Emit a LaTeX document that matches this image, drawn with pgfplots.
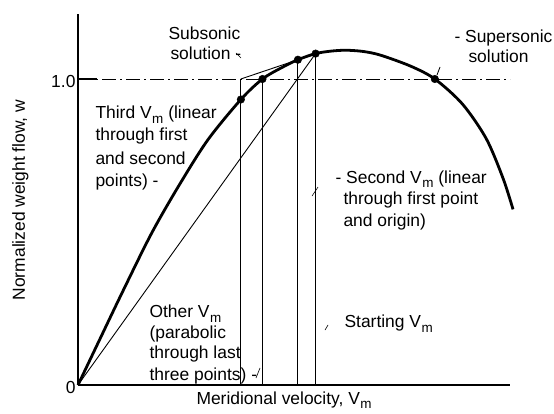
\documentclass[border=0pt]{standalone}
\usepackage{fontspec}
\setmainfont{Liberation Sans}
\usepackage{pgfplots}
\pgfplotsset{compat=1.18}
\newcommand\fs{\fontsize{17.5}{20}\selectfont}
\newcommand\Vm{V\kern0.5bp\raisebox{-0.28em}{\fontsize{13.5}{13.5}\selectfont m}}
\begin{document}
\begin{tikzpicture}[x=1bp,y=1bp]
\useasboundingbox (-78,-28) rectangle (476,385);
\begin{axis}[
  anchor=origin, at={(0,0)},
  x=432bp, y=306bp,
  xmin=0, xmax=1, ymin=0, ymax=1.212,
  clip=false,
  axis x line*=bottom, axis y line*=left,
  axis line style={line width=2.4bp},
  xtick=\empty,
  ytick={0,1}, yticklabels={0,1.0},
  ytick pos=left, tick align=inside,
  major tick length=19bp,
  every tick/.style={line width=2bp, black},
  tick label style={font=\fs},
  yticklabel style={yshift=-2bp, xshift=1bp},
  /pgf/number format/assume math mode=true,
  xlabel={Meridional velocity, \Vm},
  ylabel={Normalized weight flow, w},
  xlabel style={font=\fs, at={(axis cs:0.2662,-0.0621)}, anchor=base west},
  ylabel style={font=\fs, at={(axis cs:-0.1227,0.6046)}, anchor=base, rotate=0},
]
% reference line w = 1.0
\addplot[black, line width=0.9bp, dash pattern=on 14bp off 4bp on 2bp off 4bp] coordinates {(0,1) (1,1)};
% construction lines
\addplot[black, line width=0.9bp] coordinates {(0.377,0) (0.377,1.0)};
\addplot[black, line width=0.9bp] coordinates {(0.427,0) (0.427,1.0)};
\addplot[black, line width=0.9bp] coordinates {(0.509,0) (0.509,1.063)};
\addplot[black, line width=0.9bp] coordinates {(0.55,0) (0.55,1.083)};
\addplot[black, line width=0.9bp] coordinates {(0,0) (0.55,1.083)};
\addplot[black, line width=0.9bp] coordinates {(0.377,1.0) (0.509,1.063) (0.55,1.083)};
% weight-flow curve
\addplot[black, line width=2.8bp, smooth] coordinates {
(0,0) (0.05,0.148) (0.105,0.31) (0.17,0.495) (0.232,0.648) (0.30,0.80)
(0.377,0.933) (0.427,1.0) (0.47,1.036) (0.509,1.063) (0.55,1.083)
(0.585,1.091) (0.62,1.094) (0.66,1.090) (0.70,1.078) (0.77,1.042)
(0.826,1.0) (0.89,0.918) (0.945,0.805) (0.984,0.675) (1.007,0.574)};
% iteration points
\addplot[only marks, mark=*, mark size=3.8bp, black] coordinates {
(0.377,0.933) (0.427,1.0) (0.509,1.063) (0.55,1.083) (0.826,1.0)};
% annotations
\node[font=\fs, anchor=base west] at (axis cs:0.2014,1.1275) {Subsonic};
\node[font=\fs, anchor=base west] at (axis cs:0.206,1.0637) {solution -};
\draw[line width=0.6bp] (axis cs:0.3657,1.085) -- (axis cs:0.3773,1.0686);
\node[font=\fs, anchor=base west] at (axis cs:0.8634,1.1209) {- Supersonic};
\node[font=\fs, anchor=base west] at (axis cs:0.8958,1.0523) {solution};
\draw[line width=0.8bp] (axis cs:0.838,1.0392) -- (axis cs:0.831,1.0131);
\node[font=\fs, anchor=base west] at (axis cs:0.0324,0.8693) {Third \Vm\ (linear};
\node[font=\fs, anchor=base west] at (axis cs:0.0324,0.7974) {through first};
\node[font=\fs, anchor=base west] at (axis cs:0.0324,0.7222) {and second};
\node[font=\fs, anchor=base west] at (axis cs:0.0324,0.6503) {points) -};
\node[font=\fs, anchor=base west] at (axis cs:0.588,0.6601) {- Second \Vm\ (linear};
\node[font=\fs, anchor=base west] at (axis cs:0.6065,0.5915) {through first point};
\node[font=\fs, anchor=base west] at (axis cs:0.6065,0.5196) {and origin)};
\draw[line width=0.6bp] (axis cs:0.5417,0.6176) -- (axis cs:0.5556,0.647);
\node[font=\fs, anchor=base west] at (axis cs:0.1574,0.219) {Other \Vm};
\node[font=\fs, anchor=base west] at (axis cs:0.1574,0.1536) {(parabolic};
\node[font=\fs, anchor=base west] at (axis cs:0.1574,0.085) {through last};
\node[font=\fs, anchor=base west] at (axis cs:0.1574,0.0163) {three points) -};
\draw[line width=0.6bp] (axis cs:0.412,0.0229) -- (axis cs:0.4213,0.0556);
\node[font=\fs, anchor=base west] at (axis cs:0.6088,0.1863) {Starting \Vm};
\draw[line width=0.6bp] (axis cs:0.5718,0.1797) -- (axis cs:0.5787,0.1961);
\end{axis}
\end{tikzpicture}
\end{document}
